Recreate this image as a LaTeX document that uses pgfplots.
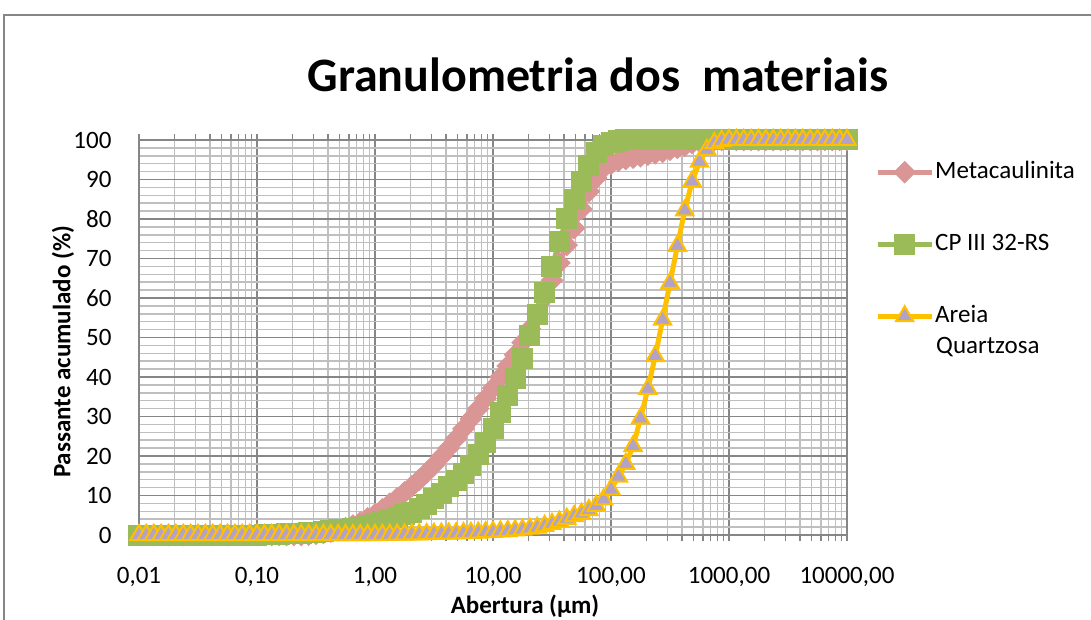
\documentclass[border=0pt]{standalone}
\usepackage{pgfplots}
\pgfplotsset{compat=1.18}
\usepackage{pgfplotstable}
\usepackage{fontspec}
\setmainfont{Carlito}
\definecolor{metac}{RGB}{217,150,148}
\definecolor{cpg}{RGB}{155,187,89}
\definecolor{aryel}{RGB}{255,192,0}
\definecolor{arpur}{RGB}{179,162,199}
\definecolor{majgrid}{RGB}{134,134,134}
\definecolor{mingrid}{RGB}{191,191,191}

\pgfplotstableread{
x meta cp ar
1.0000e-2 0 0 0
1.1548e-2 0 0 0
1.3335e-2 0 0 0
1.5399e-2 0 0 0
1.7783e-2 0 0 0
2.0535e-2 0 0 0
2.3714e-2 0 0 0
2.7384e-2 0 0 0
3.1623e-2 0 0 0
3.6517e-2 0 0 0
4.2170e-2 0 0 0
4.8697e-2 0 0 0
5.6234e-2 0 0 0
6.4938e-2 0 0 0
7.4989e-2 0 0 0
8.6596e-2 0 0 0
1.0000e-1 0 0 0
1.1548e-1 0 0.06 0
1.3335e-1 0 0.1 0
1.5399e-1 0 0.2 0
1.7783e-1 0 0.28 0
2.0535e-1 0 0.37 0
2.3714e-1 0 0.46 0
2.7384e-1 0.1 0.56 0
3.1623e-1 0.3 0.75 0
3.6517e-1 0.55 0.9 0
4.2170e-1 0.85 1.1 0
4.8697e-1 1.2 1.3 0
5.6234e-1 1.75 1.5 0
6.4938e-1 2.4 1.75 0
7.4989e-1 3.2 2.0 0
8.6596e-1 4.2 2.4 0
1.0000 5.2 2.8 0
1.1548 6.5 3.3 0.03
1.3335 7.9 3.8 0.06
1.5399 9.3 4.4 0.09
1.7783 10.8 5.1 0.12
2.0535 12.3 5.8 0.15
2.3714 14.0 6.7 0.18
2.7384 15.8 7.8 0.22
3.1623 17.7 9.2 0.3
3.6517 19.8 10.6 0.34
4.2170 22.0 12.2 0.38
4.8697 24.4 13.8 0.42
5.6234 26.9 15.5 0.47
6.4938 29.4 17.5 0.52
7.4989 32.0 20.3 0.6
8.6596 34.6 23.5 0.7
10.000 37.2 27.0 0.8
11.548 40.0 31.0 0.9
13.335 42.8 35.2 1.0
15.399 45.6 39.5 1.15
17.783 48.7 44.8 1.35
20.535 52.2 50.5 1.6
23.714 56.0 55.8 1.85
27.384 60.1 61.5 2.3
31.623 64.5 68.0 2.8
36.517 68.9 74.2 3.4
42.170 73.4 80.2 4.1
48.697 77.7 85.0 4.8
56.234 82.5 89.6 5.4
64.938 87.0 93.6 6.3
74.989 90.4 96.8 7.4
86.596 92.9 98.6 9.0
100.00 94.0 99.4 11.5
115.48 94.7 99.8 14.8
133.35 95.2 100 18.0
153.99 95.5 100 22.5
177.83 95.9 100 29.5
205.35 96.3 100 37.0
237.14 96.6 100 45.3
273.84 97.0 100 54.5
316.23 97.5 100 63.8
365.17 98.0 100 73.2
421.70 98.5 100 82.2
486.97 99.2 100 89.5
562.34 99.6 100 94.5
649.38 99.9 100 97.5
749.89 100 100 99.2
865.96 100 100 99.8
1000.0 100 100 100
1154.8 100 100 100
1333.5 100 100 100
1539.9 100 100 100
1778.3 100 100 100
2053.5 100 100 100
2371.4 100 100 100
2738.4 100 100 100
3162.3 100 100 100
3651.7 100 100 100
4217.0 100 100 100
4869.7 100 100 100
5623.4 100 100 100
6493.8 100 100 100
7498.9 100 100 100
8659.6 100 100 100
10000 100 100 100
}\gran

\begin{document}
\begin{tikzpicture}
\useasboundingbox (0pt,0pt) rectangle (1091pt,619pt);
\draw[majgrid, line width=1.5pt] (4pt,-20pt) rectangle (1110pt,604pt);
\node[anchor=base, font=\fontsize{48}{56}\selectfont\bfseries] at (598pt,527pt) {Granulometria dos~~materiais};
\node[rotate=90, font=\fontsize{25}{30}\selectfont\bfseries] at (63pt,267pt) {Passante acumulado (\%)};
\node[anchor=base, font=\fontsize{25}{30}\selectfont\bfseries] at (525pt,6pt) {Abertura (µm)};
\node[anchor=base west, inner sep=0pt, font=\fontsize{25}{30}\selectfont] at (936pt,266pt) {Quartzosa};
\begin{axis}[
  at={(139pt,84pt)}, anchor=south west,
  width=708pt, height=395pt, scale only axis,
  xmode=log, log basis x=10,
  xmin=0.01, xmax=10000, ymin=0, ymax=100,
  xtick={0.01,0.1,1,10,100,1000,10000},
  minor xtick={0.02,0.03,0.04,0.05,0.06,0.07,0.08,0.09,
    0.2,0.3,0.4,0.5,0.6,0.7,0.8,0.9,
    2,3,4,5,6,7,8,9,
    20,30,40,50,60,70,80,90,
    200,300,400,500,600,700,800,900,
    2000,3000,4000,5000,6000,7000,8000,9000},
  xticklabels={{0,01},{0,10},{1,00},{10,00},{100,00},{1000,00},{10000,00}},
  ytick={0,10,...,100},
  yticklabels={0,10,20,30,40,50,60,70,80,90,100},
  minor y tick num=4,
  grid=both,
  major grid style={majgrid, line width=1.5pt},
  minor grid style={mingrid, line width=1.5pt},
  axis line style={majgrid, line width=1.5pt},
  tick style={majgrid, line width=1.5pt},
  tick align=outside,
  major tick length=6pt, minor tick length=6pt,
  ytick style={draw=none},
  clip=false,
  tick label style={font=\fontsize{25}{30}\selectfont},
  xticklabel style={anchor=base, yshift=-42pt},
  yticklabel style={anchor=east, xshift=-18pt},
  legend style={at={(1,1)}, anchor=north west, xshift=28pt, yshift=-20pt,
    draw=none, fill=none, inner sep=0pt, row sep=48pt, column sep=1pt,
    font=\fontsize{25}{30}\selectfont,
    nodes={inner sep=0pt, text height=18pt, text depth=6pt}},
  legend cell align=left,
  legend image code/.code={\draw[mark repeat=2,mark phase=2] plot coordinates {(0pt,0pt) (27pt,0pt) (54pt,0pt)};},
]
\addplot[metac, line width=5pt, mark=square*, mark size=7.5pt,
  mark options={solid, rotate=45, fill=metac, draw=metac, line width=1pt}]
  table[x=x, y=meta] {\gran};
\addlegendentry{Metacaulinita}
\addplot[cpg, line width=5pt, mark=square*, mark size=10pt,
  mark options={solid, fill=cpg, draw=cpg, line width=1pt}]
  table[x=x, y=cp] {\gran};
\addlegendentry{CP III 32-RS}
\addplot[aryel, line width=5pt, mark=triangle*, mark size=10pt,
  mark options={solid, fill=arpur, draw=aryel, line width=2pt}]
  table[x=x, y=ar] {\gran};
\addlegendentry{Areia}
\end{axis}
\end{tikzpicture}
\end{document}
